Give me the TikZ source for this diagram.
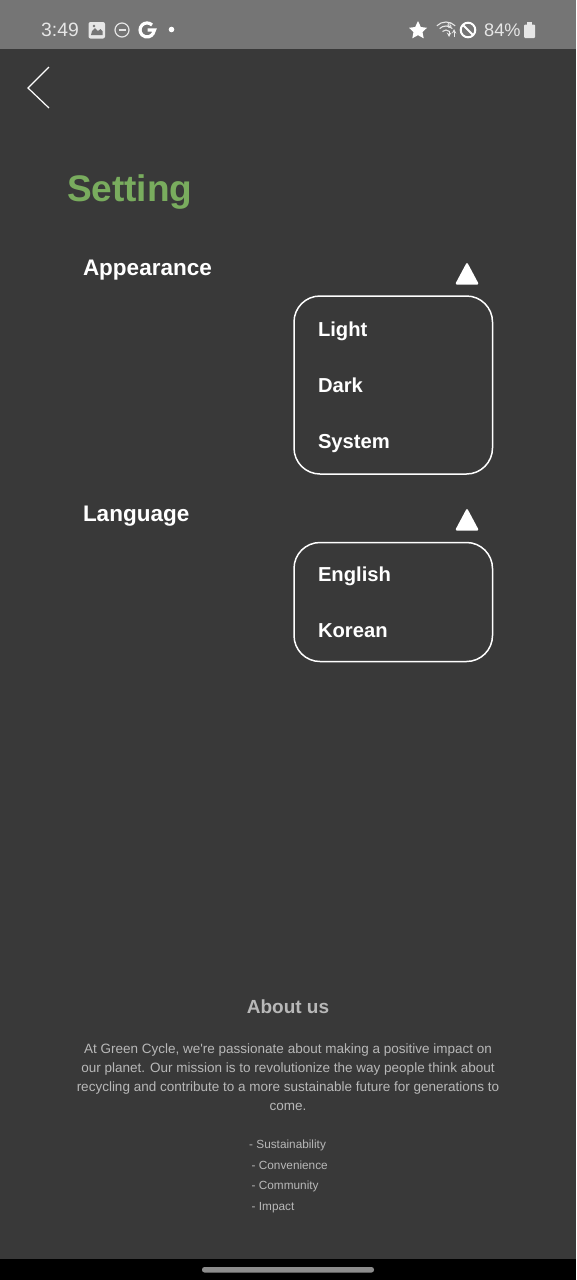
\documentclass[tikz,border=0pt]{standalone}
\usepackage{fontspec}
\setmainfont{Liberation Sans}
\newfontfamily\aboutfont{Liberation Sans}
\definecolor{screenbg}{HTML}{393939}
\definecolor{statusbg}{HTML}{757575}
\definecolor{statusfg}{HTML}{E6E6E6}
\definecolor{titlegreen}{HTML}{79AC5E}
\definecolor{abouttext}{HTML}{B8B8B8}
\definecolor{pillgrey}{HTML}{8C8C8C}
\tikzset{
  x=1pt, y=-1pt,
  txt/.style={inner sep=0pt, outer sep=0pt, text=white, font=\bfseries\fontsize{22.5}{26}\selectfont},
  menuitem/.style={txt, anchor=base west, font=\bfseries\fontsize{20.2}{24}\selectfont},
  about/.style={inner sep=0pt, text=abouttext, anchor=base, font=\aboutfont\fontsize{13.5}{17}\selectfont},
  listitem/.style={inner sep=0pt, text=abouttext, anchor=base west, font=\fontsize{11.8}{15}\selectfont},
  status/.style={inner sep=0pt, text=statusfg, font=\fontsize{19.3}{22}\selectfont},
  menubox/.style={draw=white, line width=1.5pt, rounded corners=26pt}
}
\begin{document}
\begin{tikzpicture}
  \useasboundingbox (0,0) rectangle (576,1280);

  % Backgrounds
  \fill[screenbg] (0,0) rectangle (576,1280);
  \fill[statusbg] (0,0) rectangle (576,49);
  \fill[black] (0,1259) rectangle (576,1280);
  \fill[pillgrey, rounded corners=2.5pt] (202,1267) rectangle (374,1272.5);

  % Status bar, left
  \node[status, anchor=base west] (clock) at (41,36) {3:49};
  \fill[statusfg, rounded corners=2pt] (88.5,22) rectangle (105,38.5);
  \fill[statusbg] (92,31) -- (95,28) -- (98,31) -- (100.5,29) -- (102.5,31) -- (102.5,35) -- (91,35) -- cycle;
  \fill[statusbg] (94,26) circle (1.3);
  \draw[statusfg, line width=1.2pt] (122,30) circle (7);
  \draw[statusfg, line width=1.2pt] (118.5,30) -- (125.5,30);
  \draw[white, line width=3.2pt] (152,25) arc (-45:-330:7) -- (154.5,30) -- (147.5,30);
  \fill[white] (171.5,29.5) circle (2.8);

  % Status bar, right
  \fill[white] (418,21) -- (420.8,27) -- (427,27.8) -- (422.5,32) -- (423.7,38.3) -- (418,35.2) -- (412.3,38.3) -- (413.5,32) -- (409,27.8) -- (415.2,27) -- cycle;
  \foreach \r in {5,9,13} {
    \draw[statusfg, line width=1.1pt] (446,35)+(-135:\r) arc (-135:-45:\r);
  };
  \node[inner sep=0pt, text=statusfg, font=\bfseries\fontsize{8}{8}\selectfont] (wifisix) at (449.5,25.5) {6};
  \draw[statusfg, line width=1pt, ->, >=stealth] (454,37) -- (454,29);
  \draw[statusfg!70, line width=1pt, <-, >=stealth] (449,37) -- (449,31);
  \draw[white, line width=2pt] (468,30) circle (7.3);
  \draw[white, line width=2pt] (462.8,24.8) -- (473.2,35.2);
  \node[status, anchor=base west, font=\fontsize{18.2}{22}\selectfont] (battery) at (484,36) {84\%};
  \fill[statusfg, rounded corners=1pt] (524,24.5) rectangle (535,38);
  \fill[statusfg] (527,22) rectangle (532,25);

  % Back arrow
  \coordinate (backtop) at (49,67);
  \coordinate (backtip) at (28,88);
  \coordinate (backbot) at (49,108);
  \draw[white, line width=1.2pt] (backtop) -- (backtip) -- (backbot);

  % Title and sections
  \node[txt, anchor=base west, text=titlegreen, font=\bfseries\fontsize{37}{40}\selectfont] (title) at (67,201) {Setting};
  \node[txt, anchor=base west] (appearance) at (83,275) {Appearance};
  \node[txt, anchor=base west] (language) at (83,521) {Language};

  % Carets
  \foreach \y in {265,511} {
    \fill[white, rounded corners=1.5pt] (467,\y-3) -- (479,\y+19.5) -- (455,\y+19.5) -- cycle;
  };

  % Menus
  \draw[menubox] (294,296) rectangle (492.5,474);
  \draw[menubox] (294,542.5) rectangle (492.5,661.5);
  \node[menuitem] (light) at (318,336) {Light};
  \node[menuitem] (dark) at (318,392) {Dark};
  \node[menuitem] (system) at (318,448) {System};
  \node[menuitem] (english) at (318,581) {English};
  \node[menuitem] (korean) at (318,637) {Korean};

  % About us
  \node[inner sep=0pt, text=abouttext, anchor=base, font=\bfseries\fontsize{19}{22}\selectfont] (abouthead) at (288,1013) {About us};
  \node[about] (aboutone) at (288,1053) {At Green Cycle, we're passionate about making a positive impact on};
  \node[about] (abouttwo) at (288,1072) {our planet. Our mission is to revolutionize the way people think about};
  \node[about] (aboutthree) at (288,1091) {recycling and contribute to a more sustainable future for generations to};
  \node[about] (aboutfour) at (288,1110) {come.};
  \node[listitem] (sustain) at (249,1148) {- Sustainability};
  \node[listitem] (conven) at (251.5,1169) {- Convenience};
  \node[listitem] (commun) at (251.5,1189) {- Community};
  \node[listitem] (impact) at (251.5,1210) {- Impact};
\end{tikzpicture}
\end{document}
